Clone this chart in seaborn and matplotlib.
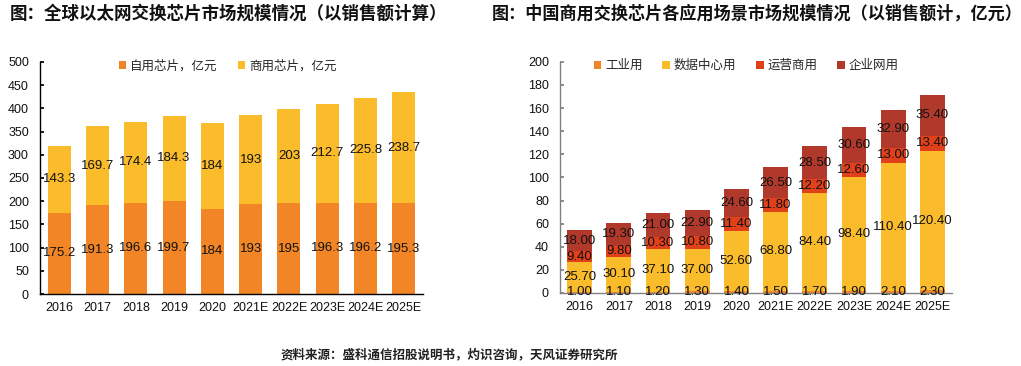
import numpy as np
import pandas as pd
import matplotlib
matplotlib.use("Agg")
import matplotlib.pyplot as plt
import seaborn as sns

# ---------------- data ----------------
years = ["2016", "2017", "2018", "2019", "2020", "2021E", "2022E", "2023E", "2024E", "2025E"]

self_use = [175.2, 191.3, 196.6, 199.7, 184, 193, 195, 196.3, 196.2, 195.3]
merchant = [143.3, 169.7, 174.4, 184.3, 184, 193, 203, 212.7, 225.8, 238.7]
left_series = ["自用芯片，亿元", "商用芯片，亿元"]

industrial = [1.00, 1.10, 1.20, 1.30, 1.40, 1.50, 1.70, 1.90, 2.10, 2.30]
datacenter = [25.70, 30.10, 37.10, 37.00, 52.60, 68.80, 84.40, 98.40, 110.40, 120.40]
carrier = [9.40, 9.80, 10.30, 10.80, 11.40, 11.80, 12.20, 12.60, 13.00, 13.40]
enterprise = [18.00, 19.30, 21.00, 22.90, 24.60, 26.50, 28.50, 30.60, 32.90, 35.40]
right_series = ["工业用", "数据中心用", "运营商用", "企业网用"]

left_title = "图：全球以太网交换芯片市场规模情况（以销售额计算）"
right_title = "图：中国商用交换芯片各应用场景市场规模情况（以销售额计，亿元）"
source = "资料来源：盛科通信招股说明书，灼识咨询，天风证券研究所"

left_colors = ["#F28626", "#FBBC2C"]
right_colors = ["#F28626", "#FBBC2C", "#E0401A", "#B0392B"]

# ---------------- style ----------------
sns.set_theme(style="white")
plt.rcParams["font.family"] = ["Liberation Sans", "Noto Sans CJK SC", "DejaVu Sans"]

fig = plt.figure(figsize=(10.21, 3.66), dpi=100)
axL = fig.add_axes([0.0392, 0.1967, 0.3751, 0.6343])
axR = fig.add_axes([0.5485, 0.1995, 0.3839, 0.6315])


def stacked(ax, series_vals, names, colors, fmt, width, ymax, ystep, spine_color):
    cum = np.cumsum(np.array(series_vals, dtype=float), axis=0)
    # draw from top layer down so lower layers cover upper totals
    for k in range(len(series_vals) - 1, -1, -1):
        df = pd.DataFrame({"year": years, "val": cum[k]})
        sns.barplot(data=df, x="year", y="val", ax=ax, color=colors[k],
                    width=width, saturation=1, linewidth=0, label=names[k])
    for k, vals in enumerate(series_vals):
        bottoms = cum[k] - np.array(vals)
        for i, v in enumerate(vals):
            ax.text(i, bottoms[i] + v / 2, fmt(v), ha="center", va="center",
                    fontsize=9.5, color="#111111")
    ax.set_xlim(-0.5, len(years) - 0.5)
    ax.set_ylim(0, ymax)
    ax.set_yticks(np.arange(0, ymax + 0.1, ystep))
    ax.set_xlabel("")
    ax.set_ylabel("")
    for s in ["top", "right"]:
        ax.spines[s].set_visible(False)
    for s in ["left", "bottom"]:
        ax.spines[s].set_color(spine_color)
        ax.spines[s].set_linewidth(1.0)
    ax.set_xticks(np.arange(-0.5, len(years), 1), minor=True)
    ax.tick_params(axis="x", which="major", length=0, labelsize=9, pad=6, colors="#111111")
    ax.tick_params(axis="x", which="minor", direction="out", length=4, color=spine_color, width=1)
    ax.tick_params(axis="y", direction="in", length=3, color=spine_color, labelsize=9,
                   pad=8, labelcolor="#111111", left=True)
    # legend in series order
    handles, labels = ax.get_legend_handles_labels()
    order = [labels.index(n) for n in names]
    ax.legend([handles[i] for i in order], [labels[i] for i in order],
              loc="upper center", ncol=len(names), frameon=False,
              handlelength=0.6, handleheight=0.6, handletextpad=0.3,
              columnspacing=1.6, fontsize=9, borderaxespad=0)


stacked(axL, [self_use, merchant], left_series, left_colors,
        lambda v: f"{v:g}", 0.6, 500, 50, "#000000")
axL.get_legend().set_bbox_to_anchor((0.49, 1.03))

stacked(axR, [industrial, datacenter, carrier, enterprise], right_series, right_colors,
        lambda v: f"{v:.2f}", 0.63, 200, 20, "#808080")
axR.get_legend().set_bbox_to_anchor((0.475, 1.03))

fig.text(10 / 1021, 1 - 14 / 366, left_title, fontsize=12.6, fontweight="bold",
         va="center", ha="left", family=["Noto Sans CJK SC"], color="#111111")
fig.text(492 / 1021, 1 - 14 / 366, right_title, fontsize=12.3, fontweight="bold",
         va="center", ha="left", family=["Noto Sans CJK SC"], color="#111111")
fig.text(449 / 1021, 1 - 355 / 366, source, fontsize=9, fontweight="bold",
         va="center", ha="center", family=["Noto Sans CJK SC"], color="#222222")

fig.savefig("out.png", dpi=100)
